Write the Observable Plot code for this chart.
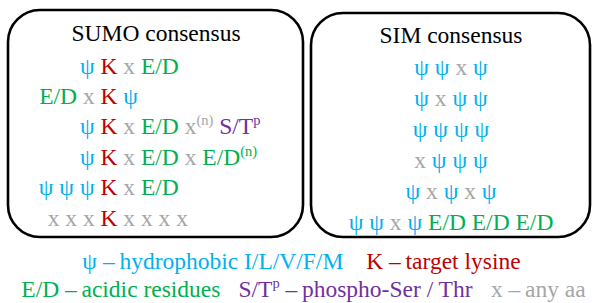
<!DOCTYPE html>
<html><head><meta charset="utf-8">
<script src="https://cdn.jsdelivr.net/npm/d3@7"></script>
<script src="https://cdn.jsdelivr.net/npm/@observablehq/plot@0.6"></script>
<style>html,body{margin:0;padding:0;background:#fff;}#chart{width:592px;height:303px;}</style>
</head><body><div id="chart"></div>
<script>
// ---- data ----
const classes = ["hydrophobic", "lysine", "acidic", "phospho", "any"];
const classColors = ["#00B0F0", "#C00000", "#00B050", "#7030A0", "#A6A6A6"];
const classOf = {"ψ": "hydrophobic", "K": "lysine", "E/D": "acidic", "S/T": "phospho", "x": "any"};

const panelTitles = ["SUMO consensus", "SIM consensus"];
const sumoMotifs = [
  ["ψ", "K", "x", "E/D"],
  ["E/D", "x", "K", "ψ"],
  ["ψ", "K", "x", "E/D", "x^(n)", "S/T^p"],
  ["ψ", "K", "x", "E/D", "x", "E/D^(n)"],
  ["ψ", "ψ", "ψ", "K", "x", "E/D"],
  ["x", "x", "x", "K", "x", "x", "x", "x"]
];
const simMotifs = [
  ["ψ", "ψ", "x", "ψ"],
  ["ψ", "x", "ψ", "ψ"],
  ["ψ", "ψ", "ψ", "ψ"],
  ["x", "ψ", "ψ", "ψ"],
  ["ψ", "x", "ψ", "x", "ψ"],
  ["ψ", "ψ", "x", "ψ", "E/D", "E/D", "E/D"]
];
const legendLines = [
  [["ψ", "hydrophobic I/L/V/F/M"], ["K", "target lysine"]],
  [["E/D", "acidic residues"], ["S/T^p", "phospho-Ser / Thr"], ["x", "any aa"]]
];

// ---- layout (page geometry, not data) ----
const W = 592, H = 303;
const FAMILY = "Liberation Serif";
const BASE = 23.5, SUP = 14.5, RAISE = 9, LEG = 23.5;
const layout = {
  panels: [
    {x1: 8, x2: 303, y1: 10, y2: 237, titleY: 40, rowY: 73, step: 30.4, align: "K", anchor: 100},
    {x1: 311, x2: 590, y1: 13, y2: 237, titleY: 42, rowY: 74.5, step: 31, align: "center"}
  ],
  legend: {ys: [268, 296], gaps: [23, 18], centers: [301, 303]}
};

const ctx = document.createElement("canvas").getContext("2d");
function tw(text, size) { ctx.font = `${size}px "${FAMILY}"`; return ctx.measureText(text).width; }

function layoutTokens(tokens, size) {
  let x = 0; const runs = [], starts = [];
  tokens.forEach((t, i) => {
    if (i > 0) x += tw(" ", size);
    starts.push(x);
    const [b, s] = t.split("^");
    const cls = classOf[b];
    runs.push({text: b, off: x, sup: false, cls});
    x += tw(b, size);
    if (s) { runs.push({text: s, off: x, sup: true, cls}); x += tw(s, SUP); }
  });
  return {runs, starts, width: x};
}

const runs = [];
const titles = [];
const boxes = [];
[sumoMotifs, simMotifs].forEach((motifs, p) => {
  const P = layout.panels[p];
  boxes.push({x1: P.x1, x2: P.x2, y1: P.y1, y2: P.y2});
  const cx = (P.x1 + P.x2) / 2;
  titles.push({text: panelTitles[p], x: cx, y: P.titleY});
  motifs.forEach((tokens, r) => {
    const L = layoutTokens(tokens, BASE);
    let start;
    if (P.align === "K") start = P.anchor - L.starts[tokens.indexOf("K")];
    else start = cx - L.width / 2;
    const y = P.rowY + r * P.step;
    L.runs.forEach(d => runs.push({...d, x: start + d.off, y}));
  });
});

// legend
const legRuns = [];
legendLines.forEach((entries, li) => {
  let x = 0; const items = [];
  entries.forEach((e, i) => {
    if (i > 0) x += layout.legend.gaps[li];
    const [b, s] = e[0].split("^");
    const cls = classOf[b];
    items.push({text: b, off: x, sup: false, cls}); x += tw(b, LEG);
    if (s) { items.push({text: s, off: x, sup: true, cls}); x += tw(s, SUP); }
    const rest = " \u2013\u2009" + e[1];
    items.push({text: rest, off: x, sup: false, cls}); x += tw(rest, LEG);
  });
  const start = layout.legend.centers[li] - x / 2;
  items.forEach(d => legRuns.push({...d, x: start + d.off, y: layout.legend.ys[li]}));
});

const common = {x: "x", y: "y", text: "text", fill: "cls", textAnchor: "start", lineAnchor: "bottom", fontFamily: FAMILY};
const chart = Plot.plot({
  width: W, height: H, margin: 0,
  x: {domain: [0, W], range: [0, W], axis: null},
  y: {domain: [0, H], range: [0, H], axis: null},
  color: {domain: classes, range: classColors},
  style: {background: "#fff"},
  marks: [
    Plot.rect(boxes, {x1: "x1", x2: "x2", y1: "y1", y2: "y2", rx: 32, fill: "none", stroke: "#000", strokeWidth: 2.6}),
    Plot.text(titles, {x: "x", y: "y", text: "text", fontSize: BASE, fontFamily: FAMILY, textAnchor: "middle", lineAnchor: "bottom", fill: "#000"}),
    Plot.text(runs.filter(d => !d.sup), {...common, fontSize: BASE}),
    Plot.text(runs.filter(d => d.sup), {...common, fontSize: SUP, dy: -RAISE}),
    Plot.text(legRuns.filter(d => !d.sup), {...common, fontSize: LEG}),
    Plot.text(legRuns.filter(d => d.sup), {...common, fontSize: SUP, dy: -RAISE})
  ]
});
document.getElementById("chart").appendChild(chart);
</script></body></html>
